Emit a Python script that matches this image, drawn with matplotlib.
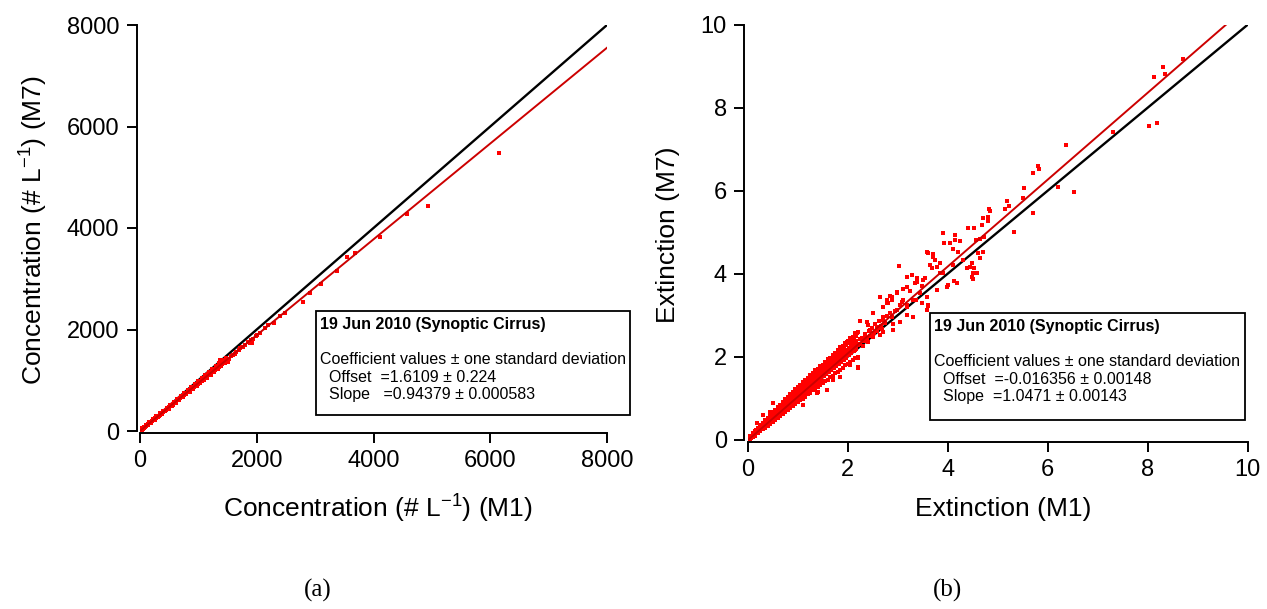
import matplotlib
matplotlib.use("Agg")
import matplotlib.pyplot as plt
from matplotlib.patches import Rectangle
import numpy as np

plt.rcParams['font.family'] = ['Liberation Sans', 'DejaVu Sans']
plt.rcParams['mathtext.fontset'] = 'custom'
plt.rcParams['mathtext.rm'] = 'Liberation Sans'
plt.rcParams['mathtext.it'] = 'Liberation Sans:italic'

# fit coefficients shown in the boxes
offset_a, slope_a = 1.6109, 0.94379
offset_b, slope_b = -0.016356, 1.0471

# (a) number concentration, M1 vs M7
conc_m1 = [15, 30, 45, 60, 75, 90, 105, 120, 140, 160, 175, 190, 210, 230, 250, 265,
           280, 300, 320, 340, 360, 380, 400, 420, 440, 460, 480, 500, 520, 545, 570,
           590, 615, 640, 660, 685, 710, 735, 760, 790, 815, 840, 870, 900, 930, 960,
           990, 1020, 1050, 1080, 1110, 1150, 1190, 1230, 1270, 1310, 1350, 1400, 1440,
           1480, 1520, 1560, 1600, 1650, 1700, 1750, 1800, 1850, 1900, 1930, 1980, 2050,
           2140, 2200, 2300, 2400, 2484, 2787, 2912, 3095, 3380, 3540, 3683, 4111, 4568,
           4937, 6150, 1513, 1370, 1913, 1770,
           50, 130, 220, 310, 410, 470, 560, 650, 720, 780, 880, 950, 1060, 1170, 1290,
           1420, 1620, 1720, 1880, 2000]
conc_m7 = [16, 28, 45, 56, 72, 84, 101, 113, 135, 149, 168, 180, 196, 220, 234, 252,
           262, 287, 300, 324, 336, 362, 374, 401, 414, 437, 450, 477, 488, 516, 535,
           560, 578, 606, 620, 648, 668, 697, 713, 748, 766, 795, 818, 853, 873, 910,
           930, 965, 987, 1022, 1045, 1090, 1118, 1165, 1195, 1240, 1270, 1328, 1355,
           1405, 1425, 1470, 1500, 1562, 1595, 1655, 1690, 1750, 1785, 1820, 1870, 1930,
           2030, 2080, 2134, 2265, 2331, 2548, 2725, 2896, 3158, 3422, 3513, 3816, 4276,
           4433, 5484, 1365, 1399, 1728, 1661,
           55, 116, 214, 285, 392, 455, 520, 625, 670, 745, 820, 915, 990, 1120, 1200,
           1360, 1510, 1640, 1740, 1900]
# upper and lower edges of the dense cloud in (a)
conc_m1_hi = [40, 100, 160, 220, 280, 340, 400, 460, 520, 580, 640, 700, 760, 820, 880,
              940, 1000, 1060, 1120, 1180, 1240, 1300, 1360, 1420, 1480]
conc_m7_hi = [54, 112, 170, 228, 286, 345, 403, 462, 520, 578, 637, 694, 752, 812, 869,
              927, 985, 1045, 1100, 1160, 1218, 1275, 1335, 1390, 1448]
conc_m1_lo = [70, 130, 190, 250, 310, 370, 430, 490, 550, 610, 670, 730, 790, 850, 910,
              970, 1030, 1090, 1150, 1210, 1270, 1330, 1390, 1450]
conc_m7_lo = [55, 110, 166, 221, 277, 332, 388, 443, 499, 554, 610, 665, 721, 776, 832,
              887, 943, 998, 1054, 1109, 1165, 1220, 1276, 1331]

# (b) extinction, M1 vs M7 - dense cloud along the fit
band_x = [0.05, 0.10, 0.15, 0.20, 0.25, 0.30, 0.35, 0.40, 0.45, 0.50, 0.55, 0.60, 0.65,
          0.70, 0.75, 0.80, 0.85, 0.90, 0.95, 1.00, 1.05, 1.10, 1.15, 1.20, 1.25, 1.30,
          1.35, 1.40, 1.45, 1.50, 1.55, 1.60, 1.65, 1.70, 1.75, 1.80, 1.85, 1.90, 1.95,
          2.00, 2.05, 2.10, 2.15, 2.20]
band_mid = [0.04, 0.09, 0.14, 0.19, 0.25, 0.30, 0.35, 0.40, 0.46, 0.51, 0.56, 0.61, 0.66,
            0.72, 0.77, 0.82, 0.87, 0.93, 0.98, 1.03, 1.08, 1.14, 1.19, 1.24, 1.29, 1.35,
            1.40, 1.45, 1.50, 1.55, 1.61, 1.66, 1.71, 1.76, 1.82, 1.87, 1.92, 1.97, 2.03,
            2.08, 2.13, 2.18, 2.24, 2.29]
band_hi = [0.09, 0.16, 0.22, 0.28, 0.35, 0.41, 0.47, 0.53, 0.60, 0.66, 0.72, 0.78, 0.84,
           0.91, 0.97, 1.03, 1.09, 1.16, 1.22, 1.28, 1.32, 1.39, 1.45, 1.49, 1.56, 1.61,
           1.67, 1.71, 1.78, 1.81, 1.88, 1.94, 1.97, 2.05, 2.09, 2.15, 2.22, 2.25, 2.33,
           2.37, 2.44, 2.48, 2.56, 2.59]
band_lo = [0.02, 0.06, 0.10, 0.15, 0.20, 0.25, 0.29, 0.34, 0.39, 0.43, 0.48, 0.53, 0.57,
           0.62, 0.67, 0.71, 0.76, 0.81, 0.85, 0.90, 0.95, 0.99, 1.04, 1.09, 1.13, 1.19,
           1.22, 1.27, 1.32, 1.36, 1.42, 1.45, 1.51, 1.54, 1.60, 1.64, 1.69, 1.73, 1.79,
           1.82, 1.88, 1.91, 1.97, 2.00]
band_x2 = [0.075, 0.125, 0.175, 0.225, 0.275, 0.325, 0.375, 0.425, 0.475, 0.525, 0.575,
           0.625, 0.675, 0.725, 0.775, 0.825, 0.875, 0.925, 0.975, 1.025, 1.075, 1.125,
           1.175, 1.225, 1.275, 1.325, 1.375, 1.425, 1.475, 1.525, 1.575, 1.625, 1.675,
           1.725, 1.775, 1.825, 1.875, 1.925, 1.975, 2.025, 2.075, 2.125, 2.175]
band_up = [0.10, 0.17, 0.23, 0.29, 0.35, 0.41, 0.47, 0.53, 0.59, 0.65, 0.71, 0.77, 0.83,
           0.89, 0.95, 1.01, 1.07, 1.12, 1.19, 1.24, 1.29, 1.35, 1.41, 1.45, 1.52, 1.57,
           1.63, 1.67, 1.74, 1.78, 1.84, 1.90, 1.93, 2.01, 2.04, 2.11, 2.17, 2.21, 2.28,
           2.32, 2.39, 2.43, 2.50]
band_uq = [0.08, 0.14, 0.20, 0.26, 0.31, 0.37, 0.43, 0.48, 0.54, 0.59, 0.65, 0.71, 0.76,
           0.82, 0.88, 0.93, 0.99, 1.04, 1.10, 1.16, 1.21, 1.26, 1.32, 1.37, 1.43, 1.48,
           1.53, 1.58, 1.64, 1.69, 1.74, 1.80, 1.84, 1.91, 1.95, 2.01, 2.07, 2.11, 2.17,
           2.22, 2.28, 2.33, 2.39]
band_lq = [0.05, 0.10, 0.15, 0.20, 0.25, 0.30, 0.35, 0.40, 0.45, 0.51, 0.56, 0.61, 0.66,
           0.71, 0.76, 0.81, 0.86, 0.91, 0.96, 1.02, 1.07, 1.12, 1.17, 1.22, 1.27, 1.32,
           1.37, 1.42, 1.47, 1.53, 1.58, 1.63, 1.68, 1.73, 1.78, 1.83, 1.88, 1.93, 1.98,
           2.03, 2.08, 2.13, 2.18]

# (b) scattered points
ext_m1 = [8.71, 8.31, 8.35, 8.13, 8.18, 8.03, 7.30, 6.37, 6.53, 6.21, 5.80, 5.83, 5.71,
          5.71, 5.53, 5.51, 5.33, 5.18, 5.15, 5.23, 4.83, 4.85, 4.80, 4.71, 4.81, 4.68,
          4.53, 4.40, 4.73, 4.65, 4.56, 4.15, 3.90, 4.14, 4.25, 4.05, 3.93, 4.11, 4.21,
          3.59, 3.71, 4.70, 4.65, 4.48, 4.53, 4.59, 4.49, 4.50, 4.38, 3.03, 3.18, 3.28,
          3.38, 3.75, 3.65, 3.78, 3.85, 4.01, 4.13, 3.61, 2.65, 2.85, 2.88, 3.11, 3.25,
          3.35, 3.51, 3.48, 3.37, 2.78, 3.08, 2.51, 2.98, 2.81, 3.11, 2.71, 2.91, 2.41,
          2.18, 2.35, 1.98, 2.15, 2.21, 2.05, 1.85, 1.78, 1.65, 1.85, 1.71, 1.45, 1.35,
          1.15, 1.41, 1.25, 0.98, 0.91, 0.51, 0.45, 0.31, 0.18, 0.65, 0.78, 1.11, 1.58,
          1.91, 2.65, 2.91, 3.18, 3.31, 3.48, 3.61,
          3.28, 3.38, 3.55, 3.68, 3.85, 3.91, 4.11, 3.71, 3.61, 3.18, 2.98, 2.88, 2.78,
          2.71, 2.51, 2.38, 2.25, 2.45, 2.58, 2.88, 2.98, 3.18, 3.31, 3.45, 3.58, 3.18,
          3.05, 2.91, 2.71, 2.21, 2.21, 1.98, 1.85, 1.68, 1.51, 1.35, 1.38, 3.58, 3.78,
          3.98, 4.18, 4.51, 4.45, 4.61, 4.31,
          2.25, 2.28, 2.32, 2.35, 2.38, 2.42, 2.45, 2.48, 2.52, 2.55, 2.58, 2.62, 2.66,
          2.70, 2.74, 2.25, 2.30, 2.40, 2.50, 2.60, 2.68, 2.78, 2.85, 2.95, 3.05]
ext_m7 = [9.17, 8.97, 8.81, 8.73, 7.62, 7.57, 7.41, 7.11, 5.98, 6.09, 6.60, 6.52, 6.42,
          5.46, 6.07, 5.83, 5.00, 5.74, 5.56, 5.63, 5.57, 5.52, 5.37, 5.34, 5.28, 5.17,
          5.11, 5.10, 4.89, 4.83, 4.81, 4.93, 4.97, 4.81, 4.79, 4.73, 4.73, 4.59, 4.53,
          4.52, 4.47, 4.52, 4.37, 4.25, 4.14, 4.01, 3.93, 3.87, 4.13, 4.19, 3.93, 3.97,
          3.89, 4.33, 4.21, 4.17, 4.01, 3.73, 3.83, 3.22, 3.43, 3.46, 3.37, 3.62, 3.58,
          3.77, 3.85, 3.70, 3.37, 3.29, 3.33, 3.05, 3.53, 3.29, 3.37, 2.88, 2.64, 2.76,
          2.56, 2.48, 2.36, 2.16, 1.72, 1.80, 2.24, 2.04, 1.92, 1.52, 1.44, 1.72, 1.52,
          1.44, 1.16, 1.20, 1.20, 1.04, 0.89, 0.67, 0.60, 0.40, 0.80, 0.72, 0.84, 1.20,
          1.72, 2.52, 2.80, 3.20, 2.96, 3.29, 3.25,
          3.97, 3.81, 3.89, 4.13, 4.25, 4.01, 4.21, 4.41, 4.49, 3.69, 3.57, 3.45, 3.37,
          3.20, 3.05, 2.84, 2.87, 2.64, 2.72, 2.96, 3.13, 3.25, 3.37, 3.53, 3.45, 3.00,
          2.84, 2.64, 2.60, 1.96, 1.74, 2.16, 2.08, 1.92, 1.76, 1.56, 1.12, 3.13, 3.61,
          3.69, 3.77, 4.01, 4.17, 4.49, 4.33,
          2.30, 2.45, 2.38, 2.55, 2.42, 2.62, 2.50, 2.70, 2.58, 2.78, 2.62, 2.85, 2.74,
          2.95, 2.82, 2.42, 2.25, 2.36, 2.48, 2.70, 2.66, 2.98, 3.05, 3.10, 3.25]

box_title = "19 Jun 2010 (Synoptic Cirrus)"
box_head = "Coefficient values \u00b1 one standard deviation"
box_a = ["  Offset  =1.6109 \u00b1 0.224", "  Slope   =0.94379 \u00b1 0.000583"]
box_b = ["  Offset  =-0.016356 \u00b1 0.00148", "  Slope  =1.0471 \u00b1 0.00143"]

W, H = 1267, 609
fig = plt.figure(figsize=(W / 100, H / 100), dpi=100)

def px_ax(x0, y0, x1, y1):
    # axes rectangle from pixel corners of the data area
    return fig.add_axes([x0 / W, 1 - y1 / H, (x1 - x0) / W, (y1 - y0) / H])

ax1 = px_ax(140, 25, 607, 431)
ax2 = px_ax(747.7, 24.7, 1247.7, 439.7)

red_pts = '#ff0000'
red_fit = '#cc0000'

for ax in (ax1, ax2):
    ax.spines['top'].set_visible(False)
    ax.spines['right'].set_visible(False)
    ax.spines['left'].set_position(('outward', 2.5))
    ax.spines['bottom'].set_position(('outward', 1.5))
    for s in ('left', 'bottom'):
        ax.spines[s].set_linewidth(1.4)
    ax.tick_params(direction='out', length=7.5, width=1.4, labelsize=17, pad=5)

# panel a: 1:1 line under the points, fit on top
ax1.plot([0, 8000], [0, 8000], color='black', lw=1.7, zorder=1.5)
ax1.scatter(conc_m1 + conc_m1_hi + conc_m1_lo, conc_m7 + conc_m7_hi + conc_m7_lo,
            s=8, marker='s', color=red_pts, linewidths=0, zorder=2)
xa = np.array([0, 8000])
ax1.plot(xa, offset_a + slope_a * xa, color=red_fit, lw=1.4, zorder=3)
ax1.set_xlim(0, 8000)
ax1.set_ylim(0, 8000)
ax1.set_xticks([0, 2000, 4000, 6000, 8000])
ax1.set_yticks([0, 2000, 4000, 6000, 8000])
ax1.set_xlabel(r'Concentration (# L$^{\mathregular{-1}}$) (M1)', fontsize=19)
ax1.set_ylabel(r'Concentration (# L$^{\mathregular{-1}}$) (M7)', fontsize=19)
ax1.xaxis.set_label_coords(0.51, -0.152)
ax1.yaxis.set_label_coords(-0.193, 0.495)

# panel b
bx = band_x * 3 + band_x2 * 3 + ext_m1
by = band_mid + band_hi + band_lo + band_up + band_uq + band_lq + ext_m7
ax2.plot([0, 10], [0, 10], color='black', lw=1.7, zorder=1.5)
ax2.scatter(bx, by, s=9, marker='s', color=red_pts, linewidths=0, zorder=2)
xb = np.array([0, (10 - offset_b) / slope_b])
ax2.plot(xb, offset_b + slope_b * xb, color=red_fit, lw=1.4, zorder=3)
ax2.set_xlim(0, 10)
ax2.set_ylim(0, 10)
ax2.set_xticks([0, 2, 4, 6, 8, 10])
ax2.set_yticks([0, 2, 4, 6, 8, 10])
ax2.set_xlabel('Extinction (M1)', fontsize=19)
ax2.set_ylabel('Extinction (M7)', fontsize=19)
ax2.xaxis.set_label_coords(0.51, -0.138)
ax2.yaxis.set_label_coords(-0.135, 0.495)

def coef_box(x0, y0, x1, y1, lines):
    fig.patches.append(Rectangle((x0 / W, 1 - y1 / H), (x1 - x0) / W, (y1 - y0) / H,
                                 transform=fig.transFigure, fill=True, facecolor='white',
                                 edgecolor='black', lw=1.3, zorder=5))
    fig.text((x0 + 4) / W, 1 - (y0 + 13) / H, box_title, fontsize=11.5, fontweight='bold',
             va='center', zorder=6)
    fig.text((x0 + 4) / W, 1 - (y0 + 49) / H, box_head, fontsize=11.5, va='center', zorder=6)
    for i, ln in enumerate(lines):
        fig.text((x0 + 4) / W, 1 - (y0 + 66 + 17 * i) / H, ln, fontsize=11.5,
                 va='center', zorder=6)

coef_box(316, 311, 630, 415, box_a)
coef_box(930, 313, 1245, 420, box_b)

fig.text(318 / W, 1 - 590 / H, '(a)', fontsize=18, family='Liberation Serif',
         ha='center', va='center')
fig.text(948 / W, 1 - 590 / H, '(b)', fontsize=18, family='Liberation Serif',
         ha='center', va='center')

fig.savefig('out.png', dpi=100)
